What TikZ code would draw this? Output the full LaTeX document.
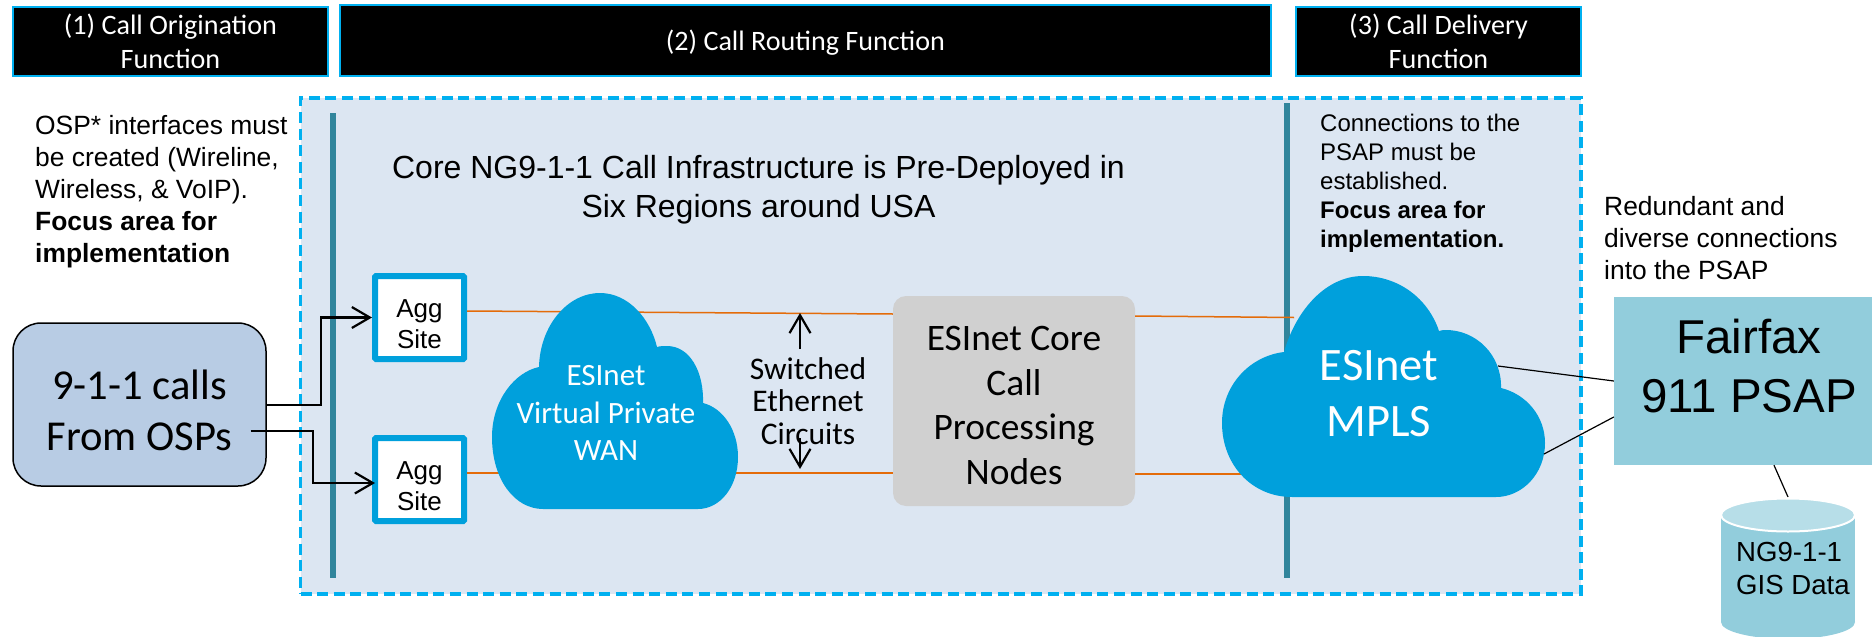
\documentclass[tikz,border=0pt]{standalone}
\usepackage{fontspec}
\setmainfont{Liberation Sans}
\newfontfamily\calibrifont{Carlito}
\usetikzlibrary{arrows.meta}
\definecolor{framecyan}{HTML}{00B0F0}
\definecolor{framefill}{HTML}{DCE6F2}
\definecolor{barteal}{HTML}{31859C}
\definecolor{cloudblue}{HTML}{00A0DC}
\definecolor{ospfill}{HTML}{B8CCE4}
\definecolor{corefill}{HTML}{D0D0D0}
\definecolor{psapfill}{HTML}{92CDDC}
\definecolor{gistop}{HTML}{B7DEE8}
\definecolor{circuitorange}{HTML}{E46C0A}
\tikzset{
	headbox/.style={draw=framecyan, line width=2pt, fill=black, text=white, inner sep=0pt, align=center,
		font=\calibrifont\fontsize{28.1}{34.5}\selectfont},
	aggbox/.style={draw=cloudblue, line width=6pt, fill=white, inner sep=0pt, align=center,
		minimum width=89pt, minimum height=83pt, rounded corners=1pt,
		font=\fontsize{26}{31}\selectfont},
	notetext/.style={anchor=west, align=left, inner sep=0pt, font=\fontsize{26.4}{32}\selectfont},
	cloudtext/.style={text=white, align=center, inner sep=0pt},
	barline/.style={draw=barteal, line width=6pt},
	circuit/.style={draw=circuitorange, line width=1.5pt},
	link/.style={draw=black, line width=1.2pt},
	feed/.style={->, draw=black, line width=2.2pt}
}
\begin{document}
\begin{tikzpicture}[x=1pt, y=-1pt, >={Straight Barb[length=18pt,width=21pt]}]
	\useasboundingbox (0,0) rectangle (1872,637);
	% function headers
	\node[headbox, minimum width=315pt, minimum height=69pt] (head1) at (170.5,41.5)
		{(1) Call Origination\\Function};
	\node[headbox, minimum width=931pt, minimum height=71pt] (head2) at (805.5,40.5)
		{\rule{0pt}{24pt}(2) Call Routing Function};
	\node[headbox, minimum width=285pt, minimum height=69pt] (head3) at (1438.5,41.5)
		{(3) Call Delivery\\Function};
	% core area
	\node[draw=framecyan, line width=3.5pt, dash pattern=on 11pt off 5.6pt, fill=framefill,
		minimum width=1280.5pt, minimum height=496pt, inner sep=0pt] (core area) at (940.75,346) {};
	\coordinate (bar1 top) at (333,113);
	\coordinate (bar1 end) at (333,578);
	\coordinate (bar2 top) at (1287,103);
	\coordinate (bar2 end) at (1287,578);
	\draw[barline] (bar1 top) -- (bar1 end);
	\draw[barline] (bar2 top) -- (bar2 end);
	\node[align=center, inner sep=0pt, font=\fontsize{32}{38.5}\selectfont] (core title) at (758.5,189.5)
		{Core NG9-1-1 Call Infrastructure is Pre-Deployed in\\Six Regions around USA};
	\node[notetext, font=\fontsize{24}{29}\selectfont] (connect note) at (1320,183)
		{Connections to the\\PSAP must be\\established.\\\textbf{Focus area for}\\\textbf{implementation.}};
	\node[notetext] (osp note) at (35,191.5)
		{OSP* interfaces must\\be created (Wireline,\\Wireless, \& VoIP).\\\textbf{Focus area for}\\\textbf{implementation}};
	\node[notetext] (psap note) at (1604,238.5)
		{Redundant and\\diverse connections\\into the PSAP};
	% boxes
	\node[draw=black, line width=1.5pt, fill=ospfill, rounded corners=28pt, minimum width=253pt,
		minimum height=163pt, inner sep=0pt, align=center,
		font=\calibrifont\fontsize{42.6}{51.5}\selectfont] (osp) at (139.5,404.5) {\rule{0pt}{41pt}9-1-1 calls\\From OSPs};
	\node[aggbox] (agg1) at (419.5,317.5) {\rule{0pt}{31pt}Agg\\Site};
	\node[aggbox] (agg2) at (419.5,479.5) {\rule{0pt}{31pt}Agg\\Site};
	\node[fill=corefill, rounded corners=13pt, minimum width=242pt, minimum height=210pt,
		inner sep=0pt, align=center, font=\calibrifont\fontsize{37.4}{44.5}\selectfont] (core) at (1014,401)
		{\rule{0pt}{33pt}ESInet Core\\Call\\Processing\\Nodes};
	\node[fill=psapfill, minimum width=258pt, minimum height=168pt, inner sep=0pt] (psap) at (1743,381) {};
	\node[align=center, inner sep=0pt, font=\fontsize{47.5}{58.5}\selectfont] (psap text) at (1749,366)
		{Fairfax\\911 PSAP};
	% circuits run behind the clouds
	\coordinate (mpls up) at (1294,317.5);
	\coordinate (mpls low) at (1300,474);
	\draw[circuit] ([yshift=6.5pt]agg1.east) -- ([yshift=87pt]core.west);
	\draw[circuit] ([yshift=6.5pt]agg2.east) -- ([yshift=-72pt]core.west);
	\draw[circuit] ([yshift=85pt]core.east) -- (mpls up);
	\draw[circuit] ([yshift=-73pt]core.east) -- (mpls low);
	% clouds
	\fill[cloudblue] (543,509) .. controls (515,509) and (492,480) .. (492,437)
		.. controls (492,400) and (515,372) .. (539,367)
		.. controls (540,325) and (568,293) .. (600,293)
		.. controls (628,293) and (650,318) .. (657,347)
		.. controls (660,346) and (664,346) .. (667,346)
		.. controls (690,346) and (704,372) .. (703,403)
		.. controls (723,408) and (738,430) .. (738,457)
		.. controls (738,487) and (720,509) .. (698,509) -- cycle;
	\fill[cloudblue] (1292,497) .. controls (1252,497) and (1222,465) .. (1222,423)
		.. controls (1222,385) and (1250,356) .. (1284,352)
		.. controls (1296,310) and (1326,276) .. (1363,276)
		.. controls (1398,276) and (1428,298) .. (1439,331)
		.. controls (1442,330) and (1444,330) .. (1446,330)
		.. controls (1476,330) and (1502,355) .. (1501,388)
		.. controls (1526,394) and (1545,416) .. (1545,443)
		.. controls (1545,474) and (1522,497) .. (1496,497) -- cycle;
	\node[cloudtext, font=\calibrifont\fontsize{31}{37.5}\selectfont] (vpn cloud) at (606,413)
		{ESInet\\Virtual Private\\WAN};
	\node[cloudtext, font=\calibrifont\fontsize{46.5}{56}\selectfont] (mpls cloud) at (1379,393.5)
		{ESInet\\MPLS};
	% arrows
	\draw[feed] ([yshift=-0.5pt]osp.east) -- ++(54pt,0pt) |- (agg1.west);
	\coordinate (feed2 start) at (250.5,431);
	\coordinate (feed2 end) at (375,483);
	\draw[feed] (feed2 start) -- (313,431) |- (feed2 end);
	\node[align=center, inner sep=0pt, font=\calibrifont\fontsize{31.5}{32.5}\selectfont] (switched) at (808,401)
		{Switched\\Ethernet\\Circuits};
	\coordinate (switched up) at (800,313);
	\coordinate (switched low) at (800,469);
	\draw[feed] (800,349) -- (switched up);
	\draw[feed] (800,438) -- (switched low);
	% psap links
	\coordinate (mpls a) at (1498,366);
	\coordinate (mpls b) at (1544,454);
	\draw[link] (mpls a) -- (psap.west);
	\draw[link] (mpls b) -- ([yshift=-36pt]psap.west);
	% gis data store
	\coordinate (gis top) at (1788,497);
	\draw[link] ([xshift=31pt]psap.south) -- (gis top);
	\fill[psapfill] (1721,515) rectangle (1855,622);
	\fill[psapfill] (1788,622) ellipse (67 and 17);
	\draw[white, line width=2pt, fill=gistop] (1788,515) ellipse (67 and 16.5);
	\node[anchor=west, align=left, inner sep=0pt, font=\fontsize{27.6}{32.5}\selectfont] (gis) at (1736,568.5)
		{NG9-1-1\\GIS Data};
\end{tikzpicture}
\end{document}
